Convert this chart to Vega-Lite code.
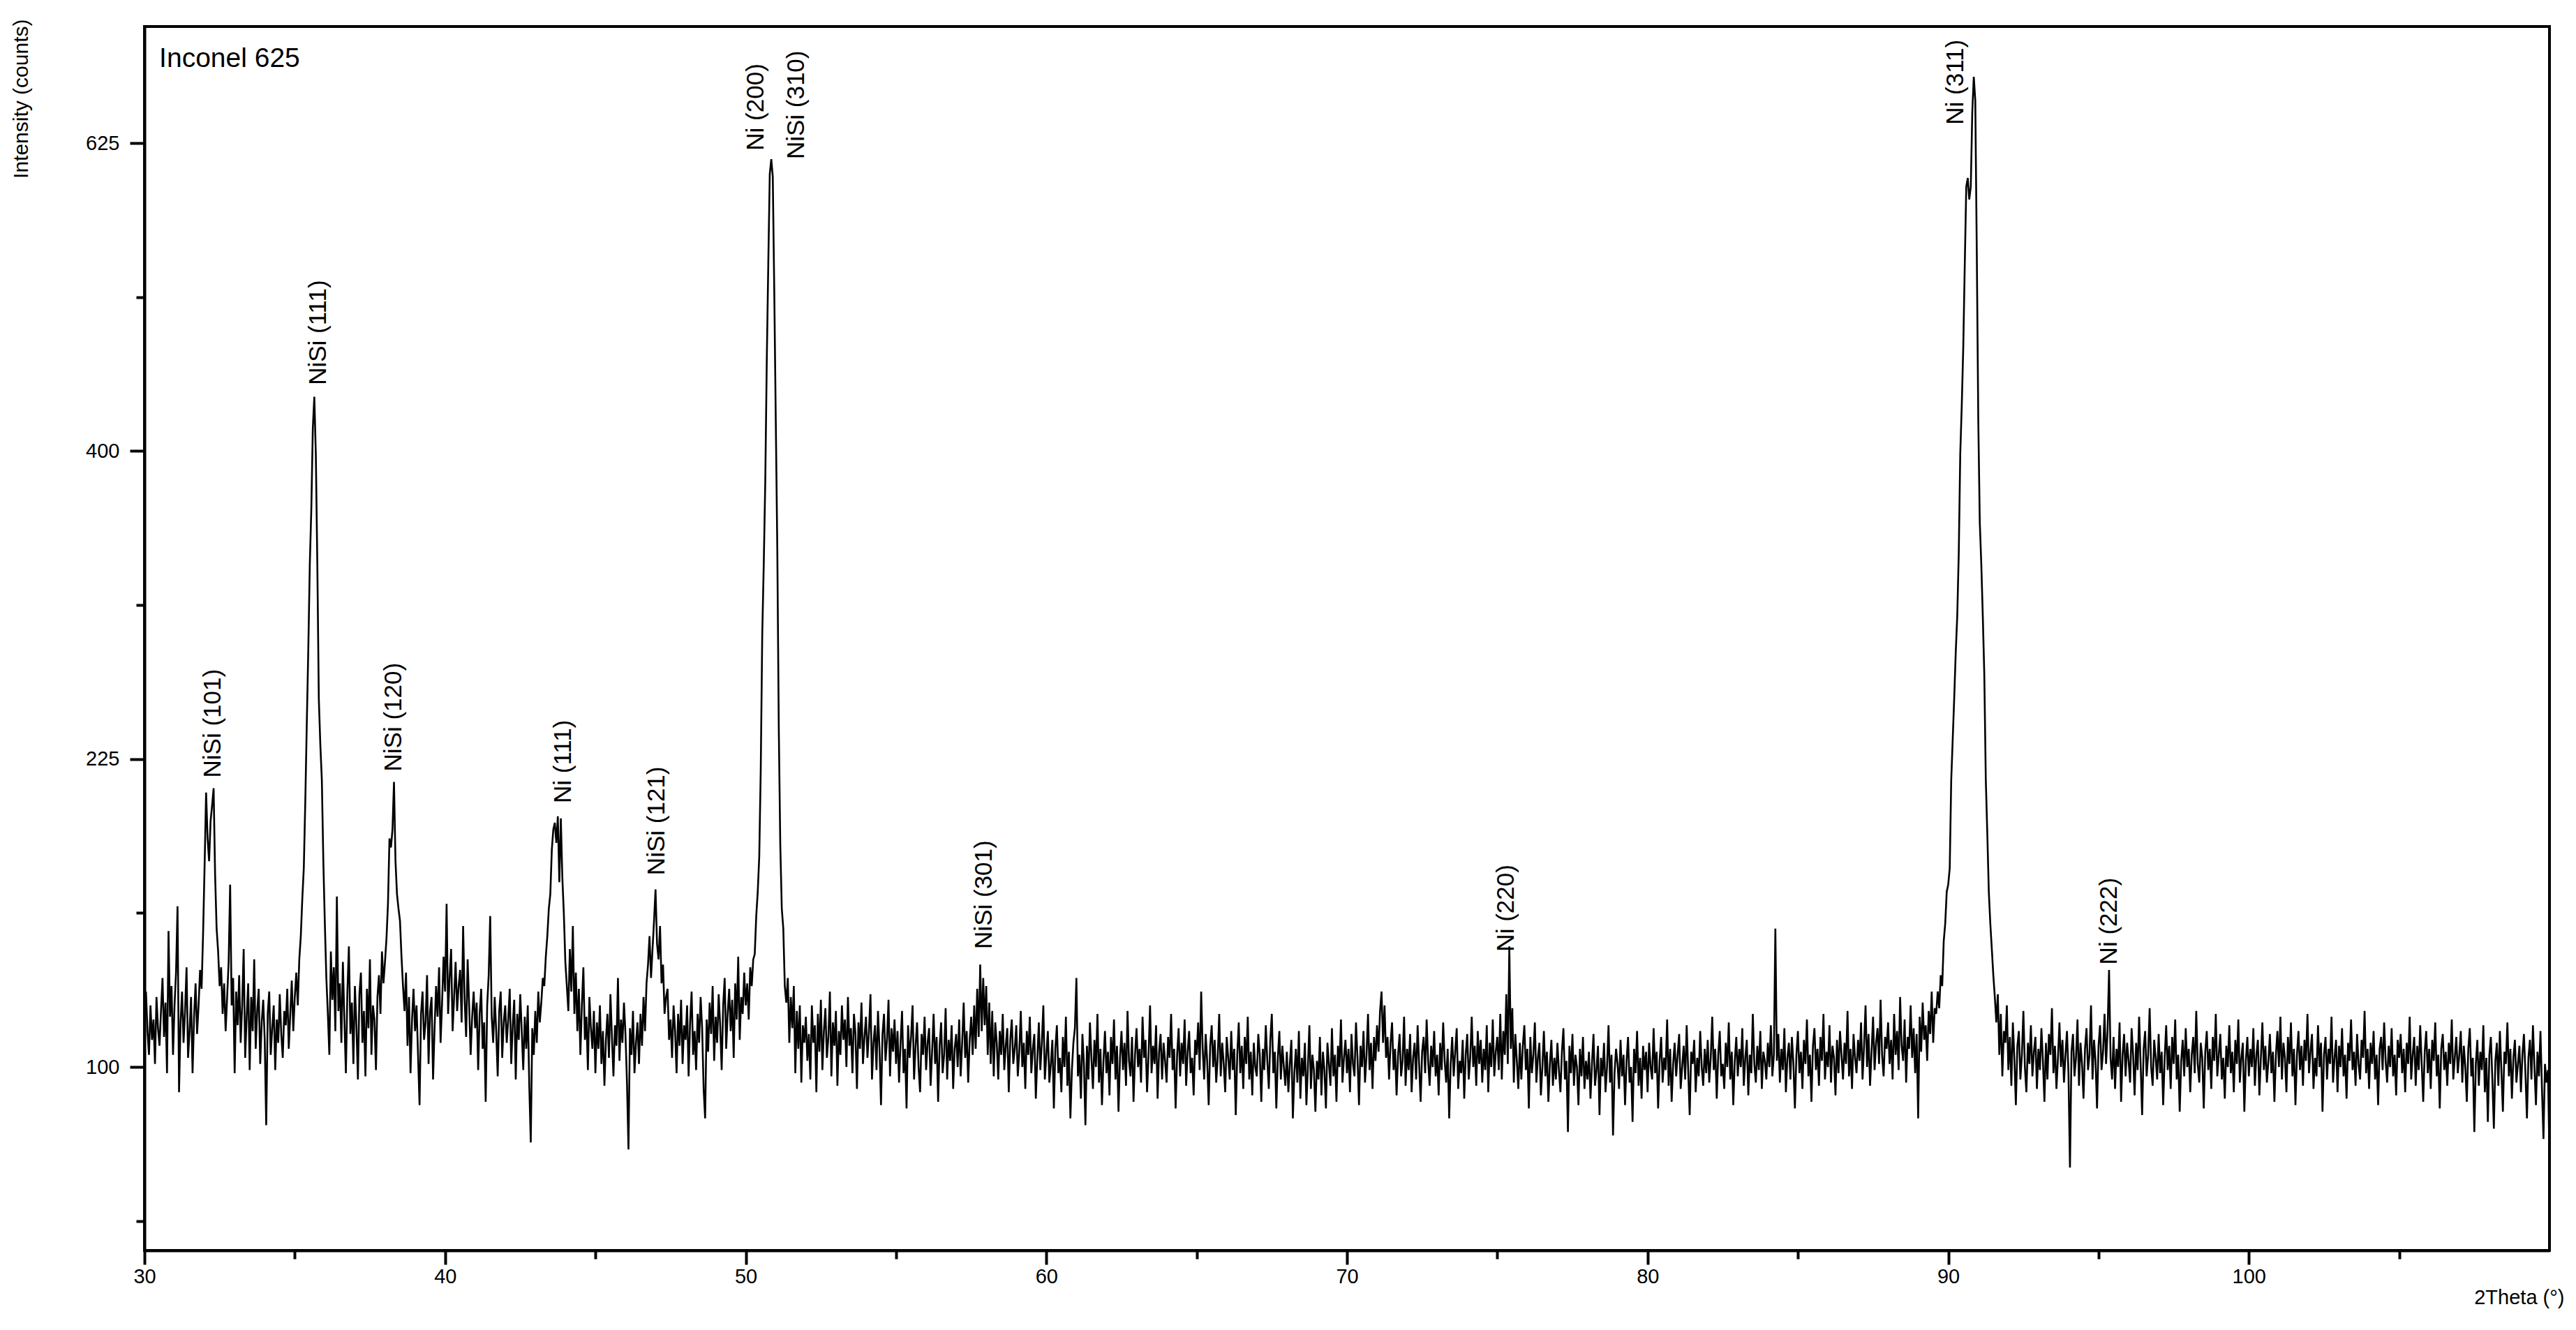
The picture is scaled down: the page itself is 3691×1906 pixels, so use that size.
{
"$schema": "https://vega.github.io/schema/vega-lite/v6.json",
"width": 3446,
"height": 1754,
"autosize": {"type": "none"},
"padding": {"left": 207, "top": 38, "right": 38, "bottom": 114},
"background": "white",
"config": {"view": {"stroke": "black", "strokeWidth": 4}, "font": "Liberation Sans"},
"datasets": {
"peaks": [
{"t":32.27,"c":216,"label":"NiSi (101)"},
{"t":35.78,"c":444,"label":"NiSi (111)"},
{"t":38.29,"c":219,"label":"NiSi (120)"},
{"t":43.92,"c":204,"label":"Ni (111)"},
{"t":47.03,"c":172,"label":"NiSi (121)"},
{"t":50.33,"c":619,"label":"Ni (200)"},
{"t":51.68,"c":612,"label":"NiSi (310)"},
{"t":57.93,"c":142,"label":"NiSi (301)"},
{"t":75.3,"c":141,"label":"Ni (220)"},
{"t":90.24,"c":640,"label":"Ni (311)"},
{"t":95.36,"c":136,"label":"Ni (222)"}
],
"tag": [{"t":30.49,"c":688,"label":"Inconel 625"}],
"xrd": [
{"t":30,"c":118},{"t":30.05,"c":126},{"t":30.1,"c":112},{"t":30.15,"c":104},{"t":30.2,"c":121},{"t":30.25,"c":109},{"t":30.3,"c":116},{"t":30.35,"c":101},{"t":30.4,"c":124},{"t":30.45,"c":113},{"t":30.5,"c":107},{"t":30.55,"c":119},{"t":30.6,"c":131},{"t":30.65,"c":110},{"t":30.7,"c":122},{"t":30.75,"c":98},{"t":30.8,"c":149},{"t":30.85,"c":117},{"t":30.9,"c":128},{"t":30.95,"c":104},
{"t":31,"c":121},{"t":31.05,"c":133},{"t":31.1,"c":159},{"t":31.15,"c":92},{"t":31.2,"c":115},{"t":31.25,"c":126},{"t":31.3,"c":108},{"t":31.35,"c":119},{"t":31.4,"c":135},{"t":31.45,"c":103},{"t":31.5,"c":112},{"t":31.55,"c":124},{"t":31.6,"c":98},{"t":31.65,"c":117},{"t":31.7,"c":129},{"t":31.75,"c":111},{"t":31.8,"c":121},{"t":31.85,"c":134},{"t":31.9,"c":127},{"t":31.95,"c":148},
{"t":32,"c":176},{"t":32.05,"c":209},{"t":32.1,"c":188},{"t":32.15,"c":178},{"t":32.2,"c":196},{"t":32.25,"c":203},{"t":32.3,"c":211},{"t":32.35,"c":172},{"t":32.4,"c":150},{"t":32.45,"c":141},{"t":32.5,"c":128},{"t":32.55,"c":135},{"t":32.6,"c":118},{"t":32.65,"c":129},{"t":32.7,"c":112},{"t":32.75,"c":124},{"t":32.8,"c":137},{"t":32.85,"c":168},{"t":32.9,"c":121},{"t":32.95,"c":131},
{"t":33,"c":98},{"t":33.05,"c":126},{"t":33.1,"c":114},{"t":33.15,"c":132},{"t":33.2,"c":108},{"t":33.25,"c":121},{"t":33.3,"c":142},{"t":33.35,"c":103},{"t":33.4,"c":117},{"t":33.45,"c":129},{"t":33.5,"c":99},{"t":33.55,"c":124},{"t":33.6,"c":112},{"t":33.65,"c":138},{"t":33.7,"c":106},{"t":33.75,"c":119},{"t":33.8,"c":127},{"t":33.85,"c":101},{"t":33.9,"c":115},{"t":33.95,"c":123},
{"t":34,"c":109},{"t":34.05,"c":82},{"t":34.1,"c":118},{"t":34.15,"c":126},{"t":34.2,"c":104},{"t":34.25,"c":113},{"t":34.3,"c":121},{"t":34.35,"c":99},{"t":34.4,"c":116},{"t":34.45,"c":108},{"t":34.5,"c":125},{"t":34.55,"c":111},{"t":34.6,"c":103},{"t":34.65,"c":119},{"t":34.7,"c":114},{"t":34.75,"c":127},{"t":34.8,"c":106},{"t":34.85,"c":118},{"t":34.9,"c":130},{"t":34.95,"c":112},
{"t":35,"c":124},{"t":35.05,"c":133},{"t":35.1,"c":121},{"t":35.15,"c":138},{"t":35.2,"c":147},{"t":35.25,"c":162},{"t":35.3,"c":175},{"t":35.35,"c":205},{"t":35.4,"c":243},{"t":35.45,"c":282},{"t":35.5,"c":330},{"t":35.55,"c":363},{"t":35.6,"c":415},{"t":35.65,"c":436},{"t":35.7,"c":398},{"t":35.75,"c":330},{"t":35.8,"c":255},{"t":35.85,"c":232},{"t":35.9,"c":215},{"t":35.95,"c":178},
{"t":36,"c":152},{"t":36.05,"c":131},{"t":36.1,"c":118},{"t":36.15,"c":104},{"t":36.2,"c":141},{"t":36.25,"c":123},{"t":36.3,"c":135},{"t":36.35,"c":112},{"t":36.4,"c":163},{"t":36.45,"c":119},{"t":36.5,"c":129},{"t":36.55,"c":108},{"t":36.6,"c":137},{"t":36.65,"c":116},{"t":36.7,"c":98},{"t":36.75,"c":126},{"t":36.8,"c":143},{"t":36.85,"c":111},{"t":36.9,"c":122},{"t":36.95,"c":101},
{"t":37,"c":128},{"t":37.05,"c":114},{"t":37.1,"c":96},{"t":37.15,"c":125},{"t":37.2,"c":133},{"t":37.25,"c":108},{"t":37.3,"c":119},{"t":37.35,"c":97},{"t":37.4,"c":127},{"t":37.45,"c":113},{"t":37.5,"c":138},{"t":37.55,"c":104},{"t":37.6,"c":121},{"t":37.65,"c":116},{"t":37.7,"c":99},{"t":37.75,"c":124},{"t":37.8,"c":132},{"t":37.85,"c":118},{"t":37.9,"c":141},{"t":37.95,"c":129},
{"t":38,"c":137},{"t":38.05,"c":146},{"t":38.1,"c":160},{"t":38.15,"c":188},{"t":38.2,"c":184},{"t":38.25,"c":192},{"t":38.3,"c":214},{"t":38.35,"c":178},{"t":38.4,"c":164},{"t":38.45,"c":158},{"t":38.5,"c":153},{"t":38.55,"c":139},{"t":38.6,"c":128},{"t":38.65,"c":119},{"t":38.7,"c":133},{"t":38.75,"c":107},{"t":38.8,"c":124},{"t":38.85,"c":98},{"t":38.9,"c":116},{"t":38.95,"c":127},
{"t":39,"c":112},{"t":39.05,"c":121},{"t":39.1,"c":104},{"t":39.15,"c":88},{"t":39.2,"c":118},{"t":39.25,"c":126},{"t":39.3,"c":109},{"t":39.35,"c":115},{"t":39.4,"c":132},{"t":39.45,"c":101},{"t":39.5,"c":119},{"t":39.55,"c":124},{"t":39.6,"c":96},{"t":39.65,"c":113},{"t":39.7,"c":128},{"t":39.75,"c":117},{"t":39.8,"c":135},{"t":39.85,"c":108},{"t":39.9,"c":122},{"t":39.95,"c":139},
{"t":40,"c":126},{"t":40.05,"c":160},{"t":40.1,"c":118},{"t":40.15,"c":131},{"t":40.2,"c":142},{"t":40.25,"c":112},{"t":40.3,"c":124},{"t":40.35,"c":137},{"t":40.4,"c":119},{"t":40.45,"c":128},{"t":40.5,"c":134},{"t":40.55,"c":115},{"t":40.6,"c":151},{"t":40.65,"c":123},{"t":40.7,"c":110},{"t":40.75,"c":138},{"t":40.8,"c":121},{"t":40.85,"c":104},{"t":40.9,"c":117},{"t":40.95,"c":126},
{"t":41,"c":113},{"t":41.05,"c":122},{"t":41.1,"c":99},{"t":41.15,"c":118},{"t":41.2,"c":127},{"t":41.25,"c":106},{"t":41.3,"c":115},{"t":41.35,"c":89},{"t":41.4,"c":121},{"t":41.45,"c":132},{"t":41.5,"c":155},{"t":41.55,"c":117},{"t":41.6,"c":108},{"t":41.65,"c":124},{"t":41.7,"c":112},{"t":41.75,"c":97},{"t":41.8,"c":119},{"t":41.85,"c":126},{"t":41.9,"c":103},{"t":41.95,"c":115},
{"t":42,"c":121},{"t":42.05,"c":108},{"t":42.1,"c":116},{"t":42.15,"c":127},{"t":42.2,"c":101},{"t":42.25,"c":114},{"t":42.3,"c":123},{"t":42.35,"c":96},{"t":42.4,"c":118},{"t":42.45,"c":109},{"t":42.5,"c":125},{"t":42.55,"c":112},{"t":42.6,"c":99},{"t":42.65,"c":117},{"t":42.7,"c":106},{"t":42.75,"c":121},{"t":42.8,"c":94},{"t":42.85,"c":77},{"t":42.9,"c":113},{"t":42.95,"c":104},
{"t":43,"c":119},{"t":43.05,"c":108},{"t":43.1,"c":126},{"t":43.15,"c":115},{"t":43.2,"c":122},{"t":43.25,"c":131},{"t":43.3,"c":128},{"t":43.35,"c":139},{"t":43.4,"c":147},{"t":43.45,"c":158},{"t":43.5,"c":164},{"t":43.55,"c":183},{"t":43.6,"c":192},{"t":43.65,"c":195},{"t":43.7,"c":186},{"t":43.75,"c":198},{"t":43.8,"c":169},{"t":43.85,"c":197},{"t":43.9,"c":171},{"t":43.95,"c":156},
{"t":44,"c":137},{"t":44.05,"c":128},{"t":44.1,"c":119},{"t":44.15,"c":142},{"t":44.2,"c":126},{"t":44.25,"c":151},{"t":44.3,"c":118},{"t":44.35,"c":133},{"t":44.4,"c":112},{"t":44.45,"c":127},{"t":44.5,"c":104},{"t":44.55,"c":121},{"t":44.6,"c":135},{"t":44.65,"c":109},{"t":44.7,"c":117},{"t":44.75,"c":99},{"t":44.8,"c":124},{"t":44.85,"c":113},{"t":44.9,"c":106},{"t":44.95,"c":119},
{"t":45,"c":98},{"t":45.05,"c":115},{"t":45.1,"c":106},{"t":45.15,"c":121},{"t":45.2,"c":101},{"t":45.25,"c":112},{"t":45.3,"c":94},{"t":45.35,"c":109},{"t":45.4,"c":118},{"t":45.45,"c":103},{"t":45.5,"c":125},{"t":45.55,"c":110},{"t":45.6,"c":97},{"t":45.65,"c":114},{"t":45.7,"c":107},{"t":45.75,"c":131},{"t":45.8,"c":102},{"t":45.85,"c":116},{"t":45.9,"c":108},{"t":45.95,"c":122},
{"t":46,"c":111},{"t":46.05,"c":95},{"t":46.1,"c":75},{"t":46.15,"c":113},{"t":46.2,"c":104},{"t":46.25,"c":119},{"t":46.3,"c":98},{"t":46.35,"c":108},{"t":46.4,"c":115},{"t":46.45,"c":101},{"t":46.5,"c":118},{"t":46.55,"c":107},{"t":46.6,"c":124},{"t":46.65,"c":112},{"t":46.7,"c":129},{"t":46.75,"c":136},{"t":46.8,"c":147},{"t":46.85,"c":131},{"t":46.9,"c":142},{"t":46.95,"c":153},
{"t":47,"c":166},{"t":47.05,"c":144},{"t":47.1,"c":138},{"t":47.15,"c":151},{"t":47.2,"c":129},{"t":47.25,"c":136},{"t":47.3,"c":118},{"t":47.35,"c":124},{"t":47.4,"c":127},{"t":47.45,"c":109},{"t":47.5,"c":116},{"t":47.55,"c":103},{"t":47.6,"c":121},{"t":47.65,"c":112},{"t":47.7,"c":98},{"t":47.75,"c":118},{"t":47.8,"c":107},{"t":47.85,"c":123},{"t":47.9,"c":101},{"t":47.95,"c":114},
{"t":48,"c":109},{"t":48.05,"c":121},{"t":48.1,"c":97},{"t":48.15,"c":115},{"t":48.2,"c":126},{"t":48.25,"c":104},{"t":48.3,"c":112},{"t":48.35,"c":99},{"t":48.4,"c":118},{"t":48.45,"c":108},{"t":48.5,"c":124},{"t":48.55,"c":113},{"t":48.6,"c":93},{"t":48.65,"c":84},{"t":48.7,"c":116},{"t":48.75,"c":105},{"t":48.8,"c":122},{"t":48.85,"c":111},{"t":48.9,"c":128},{"t":48.95,"c":102},
{"t":49,"c":117},{"t":49.05,"c":108},{"t":49.1,"c":125},{"t":49.15,"c":114},{"t":49.2,"c":99},{"t":49.25,"c":121},{"t":49.3,"c":131},{"t":49.35,"c":106},{"t":49.4,"c":118},{"t":49.45,"c":127},{"t":49.5,"c":112},{"t":49.55,"c":123},{"t":49.6,"c":103},{"t":49.65,"c":129},{"t":49.7,"c":116},{"t":49.75,"c":139},{"t":49.8,"c":109},{"t":49.85,"c":124},{"t":49.9,"c":118},{"t":49.95,"c":133},
{"t":50,"c":121},{"t":50.05,"c":129},{"t":50.1,"c":116},{"t":50.15,"c":135},{"t":50.2,"c":128},{"t":50.25,"c":138},{"t":50.3,"c":140},{"t":50.35,"c":155},{"t":50.4,"c":165},{"t":50.45,"c":180},{"t":50.5,"c":220},{"t":50.55,"c":290},{"t":50.6,"c":330},{"t":50.65,"c":380},{"t":50.7,"c":460},{"t":50.75,"c":530},{"t":50.8,"c":600},{"t":50.85,"c":612},{"t":50.9,"c":598},{"t":50.95,"c":510},
{"t":51,"c":420},{"t":51.05,"c":340},{"t":51.1,"c":240},{"t":51.15,"c":185},{"t":51.2,"c":158},{"t":51.25,"c":150},{"t":51.3,"c":128},{"t":51.35,"c":122},{"t":51.4,"c":131},{"t":51.45,"c":108},{"t":51.5,"c":124},{"t":51.55,"c":113},{"t":51.6,"c":128},{"t":51.65,"c":98},{"t":51.7,"c":119},{"t":51.75,"c":106},{"t":51.8,"c":121},{"t":51.85,"c":95},{"t":51.9,"c":114},{"t":51.95,"c":108},
{"t":52,"c":117},{"t":52.05,"c":102},{"t":52.1,"c":111},{"t":52.15,"c":96},{"t":52.2,"c":121},{"t":52.25,"c":108},{"t":52.3,"c":114},{"t":52.35,"c":92},{"t":52.4,"c":118},{"t":52.45,"c":105},{"t":52.5,"c":123},{"t":52.55,"c":99},{"t":52.6,"c":112},{"t":52.65,"c":120},{"t":52.7,"c":103},{"t":52.75,"c":110},{"t":52.8,"c":126},{"t":52.85,"c":97},{"t":52.9,"c":115},{"t":52.95,"c":107},
{"t":53,"c":119},{"t":53.05,"c":94},{"t":53.1,"c":112},{"t":53.15,"c":104},{"t":53.2,"c":121},{"t":53.25,"c":109},{"t":53.3,"c":116},{"t":53.35,"c":100},{"t":53.4,"c":124},{"t":53.45,"c":107},{"t":53.5,"c":113},{"t":53.55,"c":98},{"t":53.6,"c":118},{"t":53.65,"c":111},{"t":53.7,"c":93},{"t":53.75,"c":115},{"t":53.8,"c":106},{"t":53.85,"c":122},{"t":53.9,"c":101},{"t":53.95,"c":110},
{"t":54,"c":117},{"t":54.05,"c":103},{"t":54.1,"c":112},{"t":54.15,"c":125},{"t":54.2,"c":96},{"t":54.25,"c":108},{"t":54.3,"c":114},{"t":54.35,"c":99},{"t":54.4,"c":119},{"t":54.45,"c":106},{"t":54.5,"c":88},{"t":54.55,"c":111},{"t":54.6,"c":118},{"t":54.65,"c":102},{"t":54.7,"c":109},{"t":54.75,"c":123},{"t":54.8,"c":97},{"t":54.85,"c":113},{"t":54.9,"c":105},{"t":54.95,"c":116},
{"t":55,"c":101},{"t":55.05,"c":112},{"t":55.1,"c":95},{"t":55.15,"c":108},{"t":55.2,"c":119},{"t":55.25,"c":98},{"t":55.3,"c":106},{"t":55.35,"c":87},{"t":55.4,"c":114},{"t":55.45,"c":103},{"t":55.5,"c":110},{"t":55.55,"c":121},{"t":55.6,"c":96},{"t":55.65,"c":107},{"t":55.7,"c":115},{"t":55.75,"c":100},{"t":55.8,"c":92},{"t":55.85,"c":111},{"t":55.9,"c":104},{"t":55.95,"c":117},
{"t":56,"c":99},{"t":56.05,"c":108},{"t":56.1,"c":113},{"t":56.15,"c":94},{"t":56.2,"c":105},{"t":56.25,"c":118},{"t":56.3,"c":101},{"t":56.35,"c":110},{"t":56.4,"c":89},{"t":56.45,"c":107},{"t":56.5,"c":115},{"t":56.55,"c":98},{"t":56.6,"c":104},{"t":56.65,"c":120},{"t":56.7,"c":96},{"t":56.75,"c":109},{"t":56.8,"c":102},{"t":56.85,"c":114},{"t":56.9,"c":93},{"t":56.95,"c":106},
{"t":57,"c":111},{"t":57.05,"c":100},{"t":57.1,"c":116},{"t":57.15,"c":97},{"t":57.2,"c":108},{"t":57.25,"c":122},{"t":57.3,"c":103},{"t":57.35,"c":112},{"t":57.4,"c":95},{"t":57.45,"c":109},{"t":57.5,"c":117},{"t":57.55,"c":104},{"t":57.6,"c":121},{"t":57.65,"c":106},{"t":57.7,"c":127},{"t":57.75,"c":110},{"t":57.8,"c":136},{"t":57.85,"c":112},{"t":57.9,"c":131},{"t":57.95,"c":114},
{"t":58,"c":128},{"t":58.05,"c":104},{"t":58.1,"c":122},{"t":58.15,"c":101},{"t":58.2,"c":119},{"t":58.25,"c":97},{"t":58.3,"c":115},{"t":58.35,"c":108},{"t":58.4,"c":96},{"t":58.45,"c":112},{"t":58.5,"c":104},{"t":58.55,"c":118},{"t":58.6,"c":99},{"t":58.65,"c":107},{"t":58.7,"c":113},{"t":58.75,"c":92},{"t":58.8,"c":109},{"t":58.85,"c":116},{"t":58.9,"c":101},{"t":58.95,"c":106},
{"t":59,"c":114},{"t":59.05,"c":97},{"t":59.1,"c":105},{"t":59.15,"c":119},{"t":59.2,"c":100},{"t":59.25,"c":108},{"t":59.3,"c":93},{"t":59.35,"c":112},{"t":59.4,"c":104},{"t":59.45,"c":117},{"t":59.5,"c":98},{"t":59.55,"c":106},{"t":59.6,"c":111},{"t":59.65,"c":90},{"t":59.7,"c":103},{"t":59.75,"c":115},{"t":59.8,"c":99},{"t":59.85,"c":108},{"t":59.9,"c":121},{"t":59.95,"c":96},
{"t":60,"c":104},{"t":60.05,"c":112},{"t":60.1,"c":95},{"t":60.15,"c":101},{"t":60.2,"c":109},{"t":60.25,"c":87},{"t":60.3,"c":106},{"t":60.35,"c":114},{"t":60.4,"c":98},{"t":60.45,"c":103},{"t":60.5,"c":92},{"t":60.55,"c":110},{"t":60.6,"c":100},{"t":60.65,"c":117},{"t":60.7,"c":94},{"t":60.75,"c":105},{"t":60.8,"c":84},{"t":60.85,"c":99},{"t":60.9,"c":108},{"t":60.95,"c":113},
{"t":61,"c":131},{"t":61.05,"c":97},{"t":61.1,"c":104},{"t":61.15,"c":90},{"t":61.2,"c":111},{"t":61.25,"c":101},{"t":61.3,"c":82},{"t":61.35,"c":107},{"t":61.4,"c":96},{"t":61.45,"c":115},{"t":61.5,"c":103},{"t":61.55,"c":93},{"t":61.6,"c":109},{"t":61.65,"c":100},{"t":61.7,"c":118},{"t":61.75,"c":95},{"t":61.8,"c":106},{"t":61.85,"c":88},{"t":61.9,"c":102},{"t":61.95,"c":112},
{"t":62,"c":98},{"t":62.05,"c":105},{"t":62.1,"c":91},{"t":62.15,"c":110},{"t":62.2,"c":101},{"t":62.25,"c":116},{"t":62.3,"c":96},{"t":62.35,"c":107},{"t":62.4,"c":86},{"t":62.45,"c":103},{"t":62.5,"c":112},{"t":62.55,"c":99},{"t":62.6,"c":108},{"t":62.65,"c":94},{"t":62.7,"c":119},{"t":62.75,"c":102},{"t":62.8,"c":97},{"t":62.85,"c":110},{"t":62.9,"c":89},{"t":62.95,"c":104},
{"t":63,"c":113},{"t":63.05,"c":100},{"t":63.1,"c":106},{"t":63.15,"c":95},{"t":63.2,"c":117},{"t":63.25,"c":103},{"t":63.3,"c":109},{"t":63.35,"c":92},{"t":63.4,"c":104},{"t":63.45,"c":121},{"t":63.5,"c":98},{"t":63.55,"c":107},{"t":63.6,"c":101},{"t":63.65,"c":114},{"t":63.7,"c":90},{"t":63.75,"c":105},{"t":63.8,"c":111},{"t":63.85,"c":96},{"t":63.9,"c":108},{"t":63.95,"c":102},
{"t":64,"c":95},{"t":64.05,"c":110},{"t":64.1,"c":103},{"t":64.15,"c":118},{"t":64.2,"c":99},{"t":64.25,"c":106},{"t":64.3,"c":87},{"t":64.35,"c":104},{"t":64.4,"c":113},{"t":64.45,"c":97},{"t":64.5,"c":108},{"t":64.55,"c":101},{"t":64.6,"c":116},{"t":64.65,"c":94},{"t":64.7,"c":105},{"t":64.75,"c":112},{"t":64.8,"c":98},{"t":64.85,"c":103},{"t":64.9,"c":91},{"t":64.95,"c":109},
{"t":65,"c":104},{"t":65.05,"c":115},{"t":65.1,"c":99},{"t":65.15,"c":126},{"t":65.2,"c":106},{"t":65.25,"c":96},{"t":65.3,"c":111},{"t":65.35,"c":102},{"t":65.4,"c":88},{"t":65.45,"c":107},{"t":65.5,"c":114},{"t":65.55,"c":100},{"t":65.6,"c":109},{"t":65.65,"c":95},{"t":65.7,"c":103},{"t":65.75,"c":118},{"t":65.8,"c":97},{"t":65.85,"c":108},{"t":65.9,"c":101},{"t":65.95,"c":92},
{"t":66,"c":110},{"t":66.05,"c":103},{"t":66.1,"c":96},{"t":66.15,"c":112},{"t":66.2,"c":99},{"t":66.25,"c":106},{"t":66.3,"c":85},{"t":66.35,"c":104},{"t":66.4,"c":115},{"t":66.45,"c":98},{"t":66.5,"c":107},{"t":66.55,"c":93},{"t":66.6,"c":110},{"t":66.65,"c":101},{"t":66.7,"c":117},{"t":66.75,"c":96},{"t":66.8,"c":105},{"t":66.85,"c":91},{"t":66.9,"c":108},{"t":66.95,"c":100},
{"t":67,"c":97},{"t":67.05,"c":111},{"t":67.1,"c":104},{"t":67.15,"c":89},{"t":67.2,"c":106},{"t":67.25,"c":99},{"t":67.3,"c":114},{"t":67.35,"c":102},{"t":67.4,"c":93},{"t":67.45,"c":109},{"t":67.5,"c":118},{"t":67.55,"c":98},{"t":67.6,"c":105},{"t":67.65,"c":87},{"t":67.7,"c":103},{"t":67.75,"c":112},{"t":67.8,"c":96},{"t":67.85,"c":107},{"t":67.9,"c":100},{"t":67.95,"c":94},
{"t":68,"c":105},{"t":68.05,"c":92},{"t":68.1,"c":101},{"t":68.15,"c":109},{"t":68.2,"c":84},{"t":68.25,"c":98},{"t":68.3,"c":106},{"t":68.35,"c":95},{"t":68.4,"c":112},{"t":68.45,"c":90},{"t":68.5,"c":103},{"t":68.55,"c":97},{"t":68.6,"c":108},{"t":68.65,"c":88},{"t":68.7,"c":100},{"t":68.75,"c":114},{"t":68.8,"c":93},{"t":68.85,"c":104},{"t":68.9,"c":99},{"t":68.95,"c":86},
{"t":69,"c":102},{"t":69.05,"c":96},{"t":69.1,"c":110},{"t":69.15,"c":91},{"t":69.2,"c":105},{"t":69.25,"c":99},{"t":69.3,"c":87},{"t":69.35,"c":108},{"t":69.4,"c":101},{"t":69.45,"c":94},{"t":69.5,"c":113},{"t":69.55,"c":97},{"t":69.6,"c":104},{"t":69.65,"c":89},{"t":69.7,"c":107},{"t":69.75,"c":100},{"t":69.8,"c":116},{"t":69.85,"c":95},{"t":69.9,"c":103},{"t":69.95,"c":109},
{"t":70,"c":98},{"t":70.05,"c":106},{"t":70.1,"c":92},{"t":70.15,"c":111},{"t":70.2,"c":101},{"t":70.25,"c":97},{"t":70.3,"c":115},{"t":70.35,"c":103},{"t":70.4,"c":88},{"t":70.45,"c":107},{"t":70.5,"c":100},{"t":70.55,"c":112},{"t":70.6,"c":95},{"t":70.65,"c":104},{"t":70.7,"c":118},{"t":70.75,"c":99},{"t":70.8,"c":108},{"t":70.85,"c":93},{"t":70.9,"c":110},{"t":70.95,"c":102},
{"t":71,"c":114},{"t":71.05,"c":105},{"t":71.1,"c":119},{"t":71.15,"c":126},{"t":71.2,"c":108},{"t":71.25,"c":121},{"t":71.3,"c":103},{"t":71.35,"c":110},{"t":71.4,"c":96},{"t":71.45,"c":108},{"t":71.5,"c":115},{"t":71.55,"c":99},{"t":71.6,"c":106},{"t":71.65,"c":91},{"t":71.7,"c":104},{"t":71.75,"c":111},{"t":71.8,"c":97},{"t":71.85,"c":102},{"t":71.9,"c":117},{"t":71.95,"c":94},
{"t":72,"c":106},{"t":72.05,"c":99},{"t":72.1,"c":111},{"t":72.15,"c":92},{"t":72.2,"c":103},{"t":72.25,"c":108},{"t":72.3,"c":96},{"t":72.35,"c":114},{"t":72.4,"c":101},{"t":72.45,"c":89},{"t":72.5,"c":105},{"t":72.55,"c":110},{"t":72.6,"c":98},{"t":72.65,"c":116},{"t":72.7,"c":102},{"t":72.75,"c":94},{"t":72.8,"c":107},{"t":72.85,"c":100},{"t":72.9,"c":112},{"t":72.95,"c":97},
{"t":73,"c":104},{"t":73.05,"c":91},{"t":73.1,"c":108},{"t":73.15,"c":99},{"t":73.2,"c":115},{"t":73.25,"c":102},{"t":73.3,"c":95},{"t":73.35,"c":106},{"t":73.4,"c":84},{"t":73.45,"c":101},{"t":73.5,"c":110},{"t":73.55,"c":97},{"t":73.6,"c":105},{"t":73.65,"c":113},{"t":73.7,"c":93},{"t":73.75,"c":102},{"t":73.8,"c":98},{"t":73.85,"c":109},{"t":73.9,"c":90},{"t":73.95,"c":104},
{"t":74,"c":111},{"t":74.05,"c":96},{"t":74.1,"c":103},{"t":74.15,"c":117},{"t":74.2,"c":100},{"t":74.25,"c":107},{"t":74.3,"c":94},{"t":74.35,"c":112},{"t":74.4,"c":101},{"t":74.45,"c":109},{"t":74.5,"c":95},{"t":74.55,"c":106},{"t":74.6,"c":99},{"t":74.65,"c":114},{"t":74.7,"c":92},{"t":74.75,"c":108},{"t":74.8,"c":100},{"t":74.85,"c":116},{"t":74.9,"c":97},{"t":74.95,"c":105},
{"t":75,"c":110},{"t":75.05,"c":99},{"t":75.1,"c":118},{"t":75.15,"c":96},{"t":75.2,"c":112},{"t":75.25,"c":104},{"t":75.3,"c":125},{"t":75.35,"c":101},{"t":75.4,"c":143},{"t":75.45,"c":106},{"t":75.5,"c":120},{"t":75.55,"c":95},{"t":75.6,"c":111},{"t":75.65,"c":102},{"t":75.7,"c":93},{"t":75.75,"c":108},{"t":75.8,"c":96},{"t":75.85,"c":107},{"t":75.9,"c":114},{"t":75.95,"c":99},
{"t":76,"c":106},{"t":76.05,"c":87},{"t":76.1,"c":110},{"t":76.15,"c":98},{"t":76.2,"c":104},{"t":76.25,"c":115},{"t":76.3,"c":95},{"t":76.35,"c":103},{"t":76.4,"c":108},{"t":76.45,"c":91},{"t":76.5,"c":100},{"t":76.55,"c":112},{"t":76.6,"c":97},{"t":76.65,"c":105},{"t":76.7,"c":89},{"t":76.75,"c":101},{"t":76.8,"c":109},{"t":76.85,"c":94},{"t":76.9,"c":103},{"t":76.95,"c":96},
{"t":77,"c":108},{"t":77.05,"c":99},{"t":77.1,"c":92},{"t":77.15,"c":105},{"t":77.2,"c":113},{"t":77.25,"c":96},{"t":77.3,"c":102},{"t":77.35,"c":80},{"t":77.4,"c":107},{"t":77.45,"c":98},{"t":77.5,"c":111},{"t":77.55,"c":94},{"t":77.6,"c":104},{"t":77.65,"c":100},{"t":77.7,"c":88},{"t":77.75,"c":106},{"t":77.8,"c":97},{"t":77.85,"c":110},{"t":77.9,"c":93},{"t":77.95,"c":102},
{"t":78,"c":96},{"t":78.05,"c":105},{"t":78.1,"c":90},{"t":78.15,"c":101},{"t":78.2,"c":111},{"t":78.25,"c":94},{"t":78.3,"c":99},{"t":78.35,"c":107},{"t":78.4,"c":85},{"t":78.45,"c":103},{"t":78.5,"c":97},{"t":78.55,"c":108},{"t":78.6,"c":92},{"t":78.65,"c":100},{"t":78.7,"c":114},{"t":78.75,"c":95},{"t":78.8,"c":104},{"t":78.85,"c":79},{"t":78.9,"c":98},{"t":78.95,"c":106},
{"t":79,"c":101},{"t":79.05,"c":93},{"t":79.1,"c":109},{"t":79.15,"c":97},{"t":79.2,"c":104},{"t":79.25,"c":88},{"t":79.3,"c":102},{"t":79.35,"c":110},{"t":79.4,"c":95},{"t":79.45,"c":100},{"t":79.5,"c":83},{"t":79.55,"c":106},{"t":79.6,"c":98},{"t":79.65,"c":112},{"t":79.7,"c":94},{"t":79.75,"c":103},{"t":79.8,"c":90},{"t":79.85,"c":107},{"t":79.9,"c":99},{"t":79.95,"c":105},
{"t":80,"c":92},{"t":80.05,"c":108},{"t":80.1,"c":100},{"t":80.15,"c":96},{"t":80.2,"c":113},{"t":80.25,"c":98},{"t":80.3,"c":105},{"t":80.35,"c":87},{"t":80.4,"c":102},{"t":80.45,"c":110},{"t":80.5,"c":95},{"t":80.55,"c":103},{"t":80.6,"c":99},{"t":80.65,"c":116},{"t":80.7,"c":94},{"t":80.75,"c":106},{"t":80.8,"c":89},{"t":80.85,"c":101},{"t":80.9,"c":108},{"t":80.95,"c":97},
{"t":81,"c":104},{"t":81.05,"c":111},{"t":81.1,"c":93},{"t":81.15,"c":100},{"t":81.2,"c":107},{"t":81.25,"c":96},{"t":81.3,"c":114},{"t":81.35,"c":99},{"t":81.4,"c":85},{"t":81.45,"c":105},{"t":81.5,"c":101},{"t":81.55,"c":109},{"t":81.6,"c":92},{"t":81.65,"c":103},{"t":81.7,"c":97},{"t":81.75,"c":112},{"t":81.8,"c":100},{"t":81.85,"c":94},{"t":81.9,"c":106},{"t":81.95,"c":98},
{"t":82,"c":109},{"t":82.05,"c":95},{"t":82.1,"c":103},{"t":82.15,"c":117},{"t":82.2,"c":99},{"t":82.25,"c":106},{"t":82.3,"c":90},{"t":82.35,"c":104},{"t":82.4,"c":112},{"t":82.45,"c":97},{"t":82.5,"c":101},{"t":82.55,"c":93},{"t":82.6,"c":108},{"t":82.65,"c":100},{"t":82.7,"c":115},{"t":82.75,"c":96},{"t":82.8,"c":105},{"t":82.85,"c":88},{"t":82.9,"c":102},{"t":82.95,"c":110},
{"t":83,"c":97},{"t":83.05,"c":106},{"t":83.1,"c":100},{"t":83.15,"c":113},{"t":83.2,"c":94},{"t":83.25,"c":103},{"t":83.3,"c":109},{"t":83.35,"c":91},{"t":83.4,"c":104},{"t":83.45,"c":98},{"t":83.5,"c":118},{"t":83.55,"c":101},{"t":83.6,"c":95},{"t":83.65,"c":107},{"t":83.7,"c":99},{"t":83.75,"c":112},{"t":83.8,"c":93},{"t":83.85,"c":105},{"t":83.9,"c":102},{"t":83.95,"c":96},
{"t":84,"c":108},{"t":84.05,"c":100},{"t":84.1,"c":114},{"t":84.15,"c":97},{"t":84.2,"c":104},{"t":84.25,"c":150},{"t":84.3,"c":102},{"t":84.35,"c":111},{"t":84.4,"c":95},{"t":84.45,"c":106},{"t":84.5,"c":99},{"t":84.55,"c":113},{"t":84.6,"c":92},{"t":84.65,"c":103},{"t":84.7,"c":108},{"t":84.75,"c":96},{"t":84.8,"c":110},{"t":84.85,"c":101},{"t":84.9,"c":87},{"t":84.95,"c":104},
{"t":85,"c":112},{"t":85.05,"c":98},{"t":85.1,"c":105},{"t":85.15,"c":93},{"t":85.2,"c":109},{"t":85.25,"c":101},{"t":85.3,"c":116},{"t":85.35,"c":97},{"t":85.4,"c":104},{"t":85.45,"c":89},{"t":85.5,"c":107},{"t":85.55,"c":113},{"t":85.6,"c":99},{"t":85.65,"c":106},{"t":85.7,"c":94},{"t":85.75,"c":110},{"t":85.8,"c":102},{"t":85.85,"c":118},{"t":85.9,"c":96},{"t":85.95,"c":105},
{"t":86,"c":100},{"t":86.05,"c":114},{"t":86.1,"c":95},{"t":86.15,"c":107},{"t":86.2,"c":103},{"t":86.25,"c":91},{"t":86.3,"c":109},{"t":86.35,"c":98},{"t":86.4,"c":112},{"t":86.45,"c":104},{"t":86.5,"c":96},{"t":86.55,"c":108},{"t":86.6,"c":101},{"t":86.65,"c":119},{"t":86.7,"c":97},{"t":86.75,"c":106},{"t":86.8,"c":93},{"t":86.85,"c":111},{"t":86.9,"c":103},{"t":86.95,"c":98},
{"t":87,"c":109},{"t":87.05,"c":102},{"t":87.1,"c":115},{"t":87.15,"c":96},{"t":87.2,"c":107},{"t":87.25,"c":121},{"t":87.3,"c":100},{"t":87.35,"c":111},{"t":87.4,"c":94},{"t":87.45,"c":105},{"t":87.5,"c":117},{"t":87.55,"c":99},{"t":87.6,"c":108},{"t":87.65,"c":113},{"t":87.7,"c":101},{"t":87.75,"c":123},{"t":87.8,"c":104},{"t":87.85,"c":97},{"t":87.9,"c":110},{"t":87.95,"c":106},
{"t":88,"c":115},{"t":88.05,"c":101},{"t":88.1,"c":109},{"t":88.15,"c":96},{"t":88.2,"c":118},{"t":88.25,"c":104},{"t":88.3,"c":112},{"t":88.35,"c":99},{"t":88.4,"c":124},{"t":88.45,"c":107},{"t":88.5,"c":102},{"t":88.55,"c":116},{"t":88.6,"c":95},{"t":88.65,"c":110},{"t":88.7,"c":106},{"t":88.75,"c":121},{"t":88.8,"c":103},{"t":88.85,"c":113},{"t":88.9,"c":98},{"t":88.95,"c":111},
{"t":89,"c":84},{"t":89.05,"c":117},{"t":89.1,"c":105},{"t":89.15,"c":122},{"t":89.2,"c":109},{"t":89.25,"c":114},{"t":89.3,"c":102},{"t":89.35,"c":119},{"t":89.4,"c":111},{"t":89.45,"c":126},{"t":89.5,"c":108},{"t":89.55,"c":120},{"t":89.6,"c":118},{"t":89.65,"c":126},{"t":89.7,"c":120},{"t":89.75,"c":132},{"t":89.8,"c":128},{"t":89.85,"c":145},{"t":89.9,"c":152},{"t":89.95,"c":165},
{"t":90,"c":168},{"t":90.05,"c":175},{"t":90.1,"c":215},{"t":90.15,"c":235},{"t":90.2,"c":256},{"t":90.25,"c":280},{"t":90.3,"c":300},{"t":90.35,"c":336},{"t":90.4,"c":398},{"t":90.45,"c":430},{"t":90.5,"c":470},{"t":90.55,"c":530},{"t":90.6,"c":590},{"t":90.65,"c":597},{"t":90.7,"c":580},{"t":90.75,"c":590},{"t":90.8,"c":650},{"t":90.85,"c":680},{"t":90.9,"c":660},{"t":90.95,"c":540},
{"t":91,"c":420},{"t":91.05,"c":355},{"t":91.1,"c":330},{"t":91.15,"c":300},{"t":91.2,"c":268},{"t":91.25,"c":215},{"t":91.3,"c":190},{"t":91.35,"c":165},{"t":91.4,"c":152},{"t":91.45,"c":142},{"t":91.5,"c":132},{"t":91.55,"c":124},{"t":91.6,"c":115},{"t":91.65,"c":125},{"t":91.7,"c":104},{"t":91.75,"c":118},{"t":91.8,"c":97},{"t":91.85,"c":112},{"t":91.9,"c":108},{"t":91.95,"c":121},
{"t":92,"c":99},{"t":92.05,"c":110},{"t":92.1,"c":94},{"t":92.15,"c":115},{"t":92.2,"c":103},{"t":92.25,"c":88},{"t":92.3,"c":107},{"t":92.35,"c":112},{"t":92.4,"c":96},{"t":92.45,"c":104},{"t":92.5,"c":119},{"t":92.55,"c":100},{"t":92.6,"c":92},{"t":92.65,"c":108},{"t":92.7,"c":101},{"t":92.75,"c":114},{"t":92.8,"c":97},{"t":92.85,"c":105},{"t":92.9,"c":110},{"t":92.95,"c":93},
{"t":93,"c":106},{"t":93.05,"c":99},{"t":93.1,"c":113},{"t":93.15,"c":102},{"t":93.2,"c":89},{"t":93.25,"c":108},{"t":93.3,"c":96},{"t":93.35,"c":111},{"t":93.4,"c":104},{"t":93.45,"c":120},{"t":93.5,"c":98},{"t":93.55,"c":107},{"t":93.6,"c":93},{"t":93.65,"c":103},{"t":93.7,"c":115},{"t":93.75,"c":100},{"t":93.8,"c":109},{"t":93.85,"c":95},{"t":93.9,"c":104},{"t":93.95,"c":112},
{"t":94,"c":98},{"t":94.05,"c":70},{"t":94.1,"c":105},{"t":94.15,"c":111},{"t":94.2,"c":97},{"t":94.25,"c":103},{"t":94.3,"c":116},{"t":94.35,"c":94},{"t":94.4,"c":108},{"t":94.45,"c":101},{"t":94.5,"c":90},{"t":94.55,"c":106},{"t":94.6,"c":113},{"t":94.65,"c":99},{"t":94.7,"c":104},{"t":94.75,"c":121},{"t":94.8,"c":96},{"t":94.85,"c":109},{"t":94.9,"c":102},{"t":94.95,"c":87},
{"t":95,"c":107},{"t":95.05,"c":114},{"t":95.1,"c":99},{"t":95.15,"c":105},{"t":95.2,"c":118},{"t":95.25,"c":101},{"t":95.3,"c":112},{"t":95.35,"c":134},{"t":95.4,"c":103},{"t":95.45,"c":96},{"t":95.5,"c":110},{"t":95.55,"c":93},{"t":95.6,"c":106},{"t":95.65,"c":100},{"t":95.7,"c":115},{"t":95.75,"c":89},{"t":95.8,"c":104},{"t":95.85,"c":111},{"t":95.9,"c":97},{"t":95.95,"c":108},
{"t":96,"c":102},{"t":96.05,"c":95},{"t":96.1,"c":113},{"t":96.15,"c":104},{"t":96.2,"c":91},{"t":96.25,"c":108},{"t":96.3,"c":99},{"t":96.35,"c":117},{"t":96.4,"c":101},{"t":96.45,"c":85},{"t":96.5,"c":106},{"t":96.55,"c":112},{"t":96.6,"c":97},{"t":96.65,"c":104},{"t":96.7,"c":120},{"t":96.75,"c":100},{"t":96.8,"c":94},{"t":96.85,"c":109},{"t":96.9,"c":103},{"t":96.95,"c":96},
{"t":97,"c":111},{"t":97.05,"c":98},{"t":97.1,"c":105},{"t":97.15,"c":88},{"t":97.2,"c":103},{"t":97.25,"c":114},{"t":97.3,"c":99},{"t":97.35,"c":107},{"t":97.4,"c":93},{"t":97.45,"c":110},{"t":97.5,"c":101},{"t":97.55,"c":116},{"t":97.6,"c":96},{"t":97.65,"c":104},{"t":97.7,"c":86},{"t":97.75,"c":102},{"t":97.8,"c":109},{"t":97.85,"c":97},{"t":97.9,"c":113},{"t":97.95,"c":100},
{"t":98,"c":106},{"t":98.05,"c":92},{"t":98.1,"c":104},{"t":98.15,"c":110},{"t":98.2,"c":98},{"t":98.25,"c":119},{"t":98.3,"c":101},{"t":98.35,"c":95},{"t":98.4,"c":108},{"t":98.45,"c":103},{"t":98.5,"c":87},{"t":98.55,"c":105},{"t":98.6,"c":112},{"t":98.65,"c":99},{"t":98.7,"c":106},{"t":98.75,"c":93},{"t":98.8,"c":110},{"t":98.85,"c":102},{"t":98.9,"c":118},{"t":98.95,"c":97},
{"t":99,"c":104},{"t":99.05,"c":111},{"t":99.1,"c":96},{"t":99.15,"c":103},{"t":99.2,"c":90},{"t":99.25,"c":107},{"t":99.3,"c":100},{"t":99.35,"c":114},{"t":99.4,"c":98},{"t":99.45,"c":105},{"t":99.5,"c":92},{"t":99.55,"c":109},{"t":99.6,"c":101},{"t":99.65,"c":116},{"t":99.7,"c":95},{"t":99.75,"c":103},{"t":99.8,"c":108},{"t":99.85,"c":86},{"t":99.9,"c":102},{"t":99.95,"c":110},
{"t":100,"c":97},{"t":100.05,"c":106},{"t":100.1,"c":100},{"t":100.15,"c":113},{"t":100.2,"c":94},{"t":100.25,"c":104},{"t":100.3,"c":109},{"t":100.35,"c":91},{"t":100.4,"c":103},{"t":100.45,"c":115},{"t":100.5,"c":99},{"t":100.55,"c":107},{"t":100.6,"c":95},{"t":100.65,"c":102},{"t":100.7,"c":111},{"t":100.75,"c":98},{"t":100.8,"c":105},{"t":100.85,"c":89},{"t":100.9,"c":104},{"t":100.95,"c":112},
{"t":101,"c":100},{"t":101.05,"c":117},{"t":101.1,"c":96},{"t":101.15,"c":108},{"t":101.2,"c":103},{"t":101.25,"c":92},{"t":101.3,"c":110},{"t":101.35,"c":101},{"t":101.4,"c":115},{"t":101.45,"c":97},{"t":101.5,"c":106},{"t":101.55,"c":88},{"t":101.6,"c":104},{"t":101.65,"c":112},{"t":101.7,"c":99},{"t":101.75,"c":107},{"t":101.8,"c":94},{"t":101.85,"c":109},{"t":101.9,"c":102},{"t":101.95,"c":118},
{"t":102,"c":98},{"t":102.05,"c":105},{"t":102.1,"c":111},{"t":102.15,"c":93},{"t":102.2,"c":103},{"t":102.25,"c":97},{"t":102.3,"c":114},{"t":102.35,"c":100},{"t":102.4,"c":108},{"t":102.45,"c":86},{"t":102.5,"c":104},{"t":102.55,"c":110},{"t":102.6,"c":96},{"t":102.65,"c":106},{"t":102.7,"c":101},{"t":102.75,"c":117},{"t":102.8,"c":95},{"t":102.85,"c":103},{"t":102.9,"c":109},{"t":102.95,"c":92},
{"t":103,"c":107},{"t":103.05,"c":100},{"t":103.1,"c":113},{"t":103.15,"c":97},{"t":103.2,"c":104},{"t":103.25,"c":90},{"t":103.3,"c":108},{"t":103.35,"c":102},{"t":103.4,"c":116},{"t":103.45,"c":99},{"t":103.5,"c":105},{"t":103.55,"c":94},{"t":103.6,"c":111},{"t":103.65,"c":101},{"t":103.7,"c":96},{"t":103.75,"c":109},{"t":103.8,"c":103},{"t":103.85,"c":119},{"t":103.9,"c":98},{"t":103.95,"c":106},
{"t":104,"c":93},{"t":104.05,"c":108},{"t":104.1,"c":101},{"t":104.15,"c":112},{"t":104.2,"c":96},{"t":104.25,"c":104},{"t":104.3,"c":88},{"t":104.35,"c":106},{"t":104.4,"c":110},{"t":104.45,"c":99},{"t":104.5,"c":115},{"t":104.55,"c":102},{"t":104.6,"c":95},{"t":104.65,"c":107},{"t":104.7,"c":100},{"t":104.75,"c":113},{"t":104.8,"c":97},{"t":104.85,"c":104},{"t":104.9,"c":91},{"t":104.95,"c":109},
{"t":105,"c":103},{"t":105.05,"c":111},{"t":105.1,"c":98},{"t":105.15,"c":106},{"t":105.2,"c":92},{"t":105.25,"c":108},{"t":105.3,"c":101},{"t":105.35,"c":117},{"t":105.4,"c":96},{"t":105.45,"c":104},{"t":105.5,"c":110},{"t":105.55,"c":94},{"t":105.6,"c":107},{"t":105.65,"c":99},{"t":105.7,"c":114},{"t":105.75,"c":101},{"t":105.8,"c":89},{"t":105.85,"c":105},{"t":105.9,"c":112},{"t":105.95,"c":98},
{"t":106,"c":106},{"t":106.05,"c":93},{"t":106.1,"c":109},{"t":106.15,"c":102},{"t":106.2,"c":115},{"t":106.25,"c":97},{"t":106.3,"c":104},{"t":106.35,"c":87},{"t":106.4,"c":106},{"t":106.45,"c":111},{"t":106.5,"c":99},{"t":106.55,"c":105},{"t":106.6,"c":94},{"t":106.65,"c":108},{"t":106.7,"c":101},{"t":106.75,"c":116},{"t":106.8,"c":96},{"t":106.85,"c":103},{"t":106.9,"c":110},{"t":106.95,"c":98},
{"t":107,"c":104},{"t":107.05,"c":112},{"t":107.1,"c":95},{"t":107.15,"c":107},{"t":107.2,"c":100},{"t":107.25,"c":89},{"t":107.3,"c":106},{"t":107.35,"c":113},{"t":107.4,"c":97},{"t":107.45,"c":103},{"t":107.5,"c":80},{"t":107.55,"c":101},{"t":107.6,"c":109},{"t":107.65,"c":94},{"t":107.7,"c":105},{"t":107.75,"c":99},{"t":107.8,"c":114},{"t":107.85,"c":92},{"t":107.9,"c":103},{"t":107.95,"c":83},
{"t":108,"c":104},{"t":108.05,"c":110},{"t":108.1,"c":96},{"t":108.15,"c":81},{"t":108.2,"c":102},{"t":108.25,"c":108},{"t":108.3,"c":94},{"t":108.35,"c":112},{"t":108.4,"c":99},{"t":108.45,"c":86},{"t":108.5,"c":105},{"t":108.55,"c":101},{"t":108.6,"c":115},{"t":108.65,"c":97},{"t":108.7,"c":106},{"t":108.75,"c":90},{"t":108.8,"c":103},{"t":108.85,"c":109},{"t":108.9,"c":95},{"t":108.95,"c":101},
{"t":109,"c":107},{"t":109.05,"c":92},{"t":109.1,"c":104},{"t":109.15,"c":111},{"t":109.2,"c":98},{"t":109.25,"c":84},{"t":109.3,"c":103},{"t":109.35,"c":109},{"t":109.4,"c":96},{"t":109.45,"c":114},{"t":109.5,"c":100},{"t":109.55,"c":88},{"t":109.6,"c":105},{"t":109.65,"c":97},{"t":109.7,"c":112},{"t":109.75,"c":93},{"t":109.8,"c":78},{"t":109.85,"c":101},{"t":109.9,"c":95},{"t":109.95,"c":99},
{"t":110,"c":72}
]
},
"layer": [
{
"data": {"name": "xrd"},
"mark": {"type": "line", "color": "black", "strokeWidth": 2.6, "clip": true},
"encoding": {
"x": {"field": "t", "type": "quantitative",
"scale": {"domain": [30, 110], "nice": false, "zero": false},
"axis": {"title": "2Theta (°)", "values": [30,35,40,45,50,55,60,65,70,75,80,85,90,95,100,105],
"labelExpr": "datum.value % 10 === 0 ? datum.label : ''",
"tickSize": {"condition": {"test": "datum.value % 10 === 0", "value": 20}, "value": 12},
"tickWidth": 4, "tickColor": "black", "domainColor": "black", "domainWidth": 4,
"labelFontSize": 29, "labelColor": "black", "labelPadding": 3, "labelFlush": false, "labelOverlap": false,
"grid": false, "titleFontSize": 29, "titleFontWeight": "normal", "titleColor": "black",
"titleX": 3467, "titleY": 67, "titleAlign": "right", "titleBaseline": "middle"}},
"y": {"field": "c", "type": "quantitative",
"scale": {"type": "sqrt", "domain": [49.3, 723.2], "nice": false, "zero": false},
"axis": {"title": "Intensity (counts)", "values": [56.25,100,156.25,225,306.25,400,506.25,625],
"labelExpr": "indexof([100,225,400,625], datum.value) >= 0 ? datum.label : ''",
"tickSize": {"condition": {"test": "indexof([100,225,400,625], datum.value) >= 0", "value": 21}, "value": 12},
"tickWidth": 4, "tickColor": "black", "domainColor": "black", "domainWidth": 4,
"labelFontSize": 29, "labelColor": "black", "labelPadding": 15, "labelOverlap": false, "labelFlush": false,
"grid": false, "titleFontSize": 30, "titleFontWeight": "normal", "titleColor": "black",
"titleAngle": 270, "titleX": -177, "titleY": -11, "titleAlign": "right", "titleBaseline": "middle"}}
}
},
{
"data": {"name": "peaks"},
"mark": {"type": "text", "angle": 270, "align": "left", "baseline": "middle", "fontSize": 35, "color": "black", "font": "Liberation Sans"},
"encoding": {
"x": {"field": "t", "type": "quantitative"},
"y": {"field": "c", "type": "quantitative"},
"text": {"field": "label"}
}
},
{
"data": {"name": "tag"},
"mark": {"type": "text", "align": "left", "baseline": "alphabetic", "fontSize": 39, "color": "black", "font": "Liberation Sans"},
"encoding": {
"x": {"field": "t", "type": "quantitative"},
"y": {"field": "c", "type": "quantitative"},
"text": {"field": "label"}
}
}
]
}
